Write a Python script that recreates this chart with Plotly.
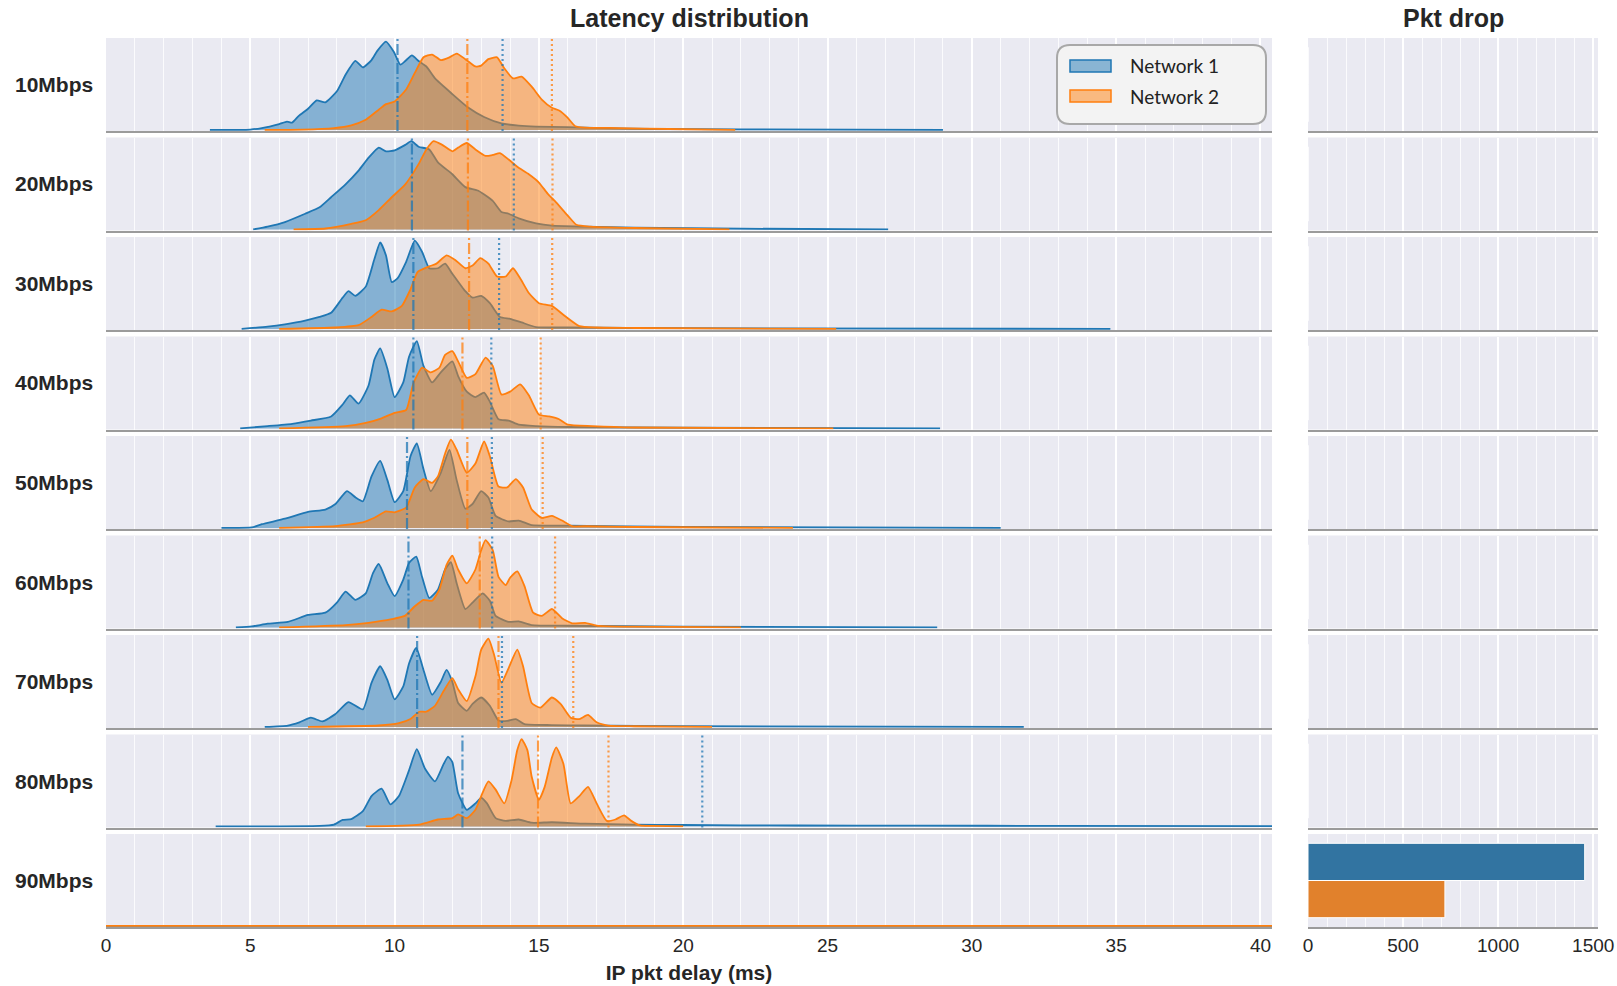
import plotly.graph_objects as go
from plotly.subplots import make_subplots

rates = ["10Mbps", "20Mbps", "30Mbps", "40Mbps", "50Mbps", "60Mbps", "70Mbps", "80Mbps", "90Mbps"]

# latency KDE per rate: delay (ms) and density (scaled to the ridge height)
n1_10_delay = [3.6, 5.0, 5.4, 6.0, 6.27, 6.45, 6.67, 7.0, 7.3, 7.6, 8.0, 8.3, 8.64, 8.9, 9.2, 9.4, 9.7, 9.97, 10.2, 10.37, 10.6, 10.83, 11.1, 11.4, 12.0, 12.56, 13.1, 13.7, 14.3, 14.9, 16.0, 17.2, 18.9, 22.0, 29.0]
n1_10_dens = [0.0, 0.004, 0.02, 0.064, 0.09, 0.08, 0.15, 0.23, 0.32, 0.30, 0.42, 0.60, 0.75, 0.68, 0.76, 0.86, 0.96, 0.85, 0.71, 0.75, 0.81, 0.75, 0.69, 0.56, 0.39, 0.24, 0.14, 0.07, 0.046, 0.035, 0.03, 0.02, 0.01, 0.006, 0.0]
n2_10_delay = [5.5, 6.8, 7.9, 8.5, 9.0, 9.45, 9.7, 10.0, 10.4, 10.7, 11.0, 11.3, 11.6, 11.9, 12.15, 12.45, 12.8, 13.0, 13.25, 13.55, 13.8, 14.1, 14.4, 14.75, 15.1, 15.45, 15.7, 16.0, 16.26, 16.6, 17.8, 19.5, 21.8]
n2_10_dens = [0.0, 0.003, 0.02, 0.05, 0.11, 0.22, 0.28, 0.31, 0.44, 0.62, 0.79, 0.82, 0.76, 0.79, 0.83, 0.77, 0.69, 0.70, 0.77, 0.79, 0.67, 0.56, 0.58, 0.47, 0.33, 0.24, 0.21, 0.13, 0.04, 0.025, 0.02, 0.01, 0.0]

n1_20_delay = [5.1, 5.6, 6.2, 6.9, 7.4, 7.8, 8.3, 8.75, 9.1, 9.45, 9.7, 10.0, 10.37, 10.58, 10.83, 11.2, 11.5, 12.0, 12.45, 12.9, 13.4, 13.7, 13.95, 14.3, 14.9, 15.45, 16.6, 18.3, 22.0, 27.1]
n1_20_dens = [0.0, 0.03, 0.08, 0.17, 0.24, 0.35, 0.49, 0.64, 0.78, 0.89, 0.85, 0.86, 0.92, 0.96, 0.90, 0.87, 0.73, 0.60, 0.46, 0.42, 0.31, 0.19, 0.17, 0.12, 0.065, 0.04, 0.03, 0.02, 0.008, 0.0]
n2_20_delay = [6.5, 7.6, 8.5, 9.0, 9.45, 9.9, 10.37, 10.83, 11.1, 11.35, 11.65, 12.0, 12.2, 12.5, 12.8, 13.15, 13.4, 13.65, 13.95, 14.3, 14.65, 15.0, 15.3, 15.55, 16.0, 16.3, 16.8, 18.3, 21.6]
n2_20_dens = [0.0, 0.01, 0.06, 0.10, 0.21, 0.35, 0.49, 0.71, 0.87, 0.96, 0.92, 0.85, 0.89, 0.94, 0.87, 0.80, 0.81, 0.83, 0.76, 0.67, 0.60, 0.51, 0.39, 0.31, 0.15, 0.05, 0.03, 0.015, 0.0]

n1_30_delay = [4.7, 5.6, 6.2, 6.9, 7.4, 7.8, 8.2, 8.4, 8.64, 9.0, 9.3, 9.5, 9.7, 9.9, 10.1, 10.4, 10.7, 10.95, 11.2, 11.5, 11.75, 12.0, 12.45, 12.7, 13.0, 13.3, 13.65, 14.0, 14.4, 14.9, 16.0, 20.0, 34.8]
n1_30_dens = [0.0, 0.025, 0.05, 0.09, 0.13, 0.175, 0.34, 0.41, 0.36, 0.46, 0.76, 0.94, 0.80, 0.51, 0.55, 0.73, 0.96, 0.84, 0.66, 0.66, 0.71, 0.60, 0.41, 0.34, 0.36, 0.28, 0.13, 0.11, 0.07, 0.02, 0.015, 0.008, 0.0]
n2_30_delay = [6.0, 7.95, 8.75, 9.2, 9.55, 9.9, 10.25, 10.55, 10.8, 11.2, 11.45, 11.8, 12.1, 12.45, 12.7, 12.97, 13.25, 13.55, 13.85, 14.1, 14.35, 14.65, 15.0, 15.45, 15.9, 16.4, 17.0, 18.3, 25.3]
n2_30_dens = [0.0, 0.015, 0.04, 0.13, 0.21, 0.19, 0.25, 0.43, 0.62, 0.68, 0.71, 0.80, 0.75, 0.66, 0.69, 0.77, 0.71, 0.57, 0.57, 0.66, 0.55, 0.39, 0.28, 0.25, 0.14, 0.03, 0.015, 0.01, 0.0]

n1_40_delay = [4.65, 5.6, 6.45, 7.1, 7.8, 8.2, 8.45, 8.75, 9.1, 9.3, 9.5, 9.75, 10.0, 10.3, 10.5, 10.77, 11.0, 11.3, 11.6, 12.0, 12.2, 12.5, 12.8, 13.1, 13.3, 13.6, 13.95, 14.3, 14.9, 16.0, 20.0, 28.9]
n1_40_dens = [0.0, 0.025, 0.05, 0.085, 0.13, 0.26, 0.36, 0.27, 0.47, 0.75, 0.87, 0.65, 0.34, 0.50, 0.78, 0.95, 0.68, 0.50, 0.61, 0.73, 0.57, 0.40, 0.34, 0.39, 0.29, 0.10, 0.085, 0.04, 0.025, 0.015, 0.008, 0.0]
n2_40_delay = [6.0, 8.3, 9.0, 9.55, 10.0, 10.4, 10.65, 10.95, 11.25, 11.55, 11.75, 12.0, 12.2, 12.5, 12.8, 13.15, 13.4, 13.7, 14.0, 14.35, 14.65, 15.0, 15.35, 15.7, 16.0, 16.85, 18.3, 25.2]
n2_40_dens = [0.0, 0.025, 0.06, 0.11, 0.17, 0.20, 0.49, 0.66, 0.61, 0.66, 0.80, 0.84, 0.73, 0.55, 0.59, 0.77, 0.68, 0.37, 0.40, 0.48, 0.36, 0.15, 0.13, 0.10, 0.04, 0.025, 0.01, 0.0]

n1_50_delay = [4.0, 5.05, 5.4, 6.2, 7.0, 7.6, 7.95, 8.35, 8.65, 8.9, 9.2, 9.5, 9.75, 10.0, 10.3, 10.55, 10.77, 11.0, 11.25, 11.6, 11.9, 12.15, 12.45, 12.7, 13.0, 13.25, 13.5, 13.95, 14.3, 14.75, 16.0, 20.0, 31.0]
n1_50_dens = [0.0, 0.005, 0.04, 0.10, 0.175, 0.20, 0.26, 0.40, 0.33, 0.29, 0.56, 0.73, 0.52, 0.28, 0.40, 0.78, 0.92, 0.64, 0.40, 0.60, 0.85, 0.52, 0.21, 0.26, 0.40, 0.33, 0.13, 0.07, 0.08, 0.03, 0.025, 0.01, 0.0]
n2_50_delay = [6.0, 7.95, 8.9, 9.3, 9.7, 10.0, 10.4, 10.7, 11.0, 11.3, 11.5, 11.75, 11.95, 12.15, 12.5, 12.8, 13.1, 13.3, 13.6, 13.9, 14.2, 14.45, 14.75, 15.1, 15.45, 15.8, 16.15, 16.7, 18.3, 23.8]
n2_50_dens = [0.0, 0.02, 0.06, 0.11, 0.18, 0.17, 0.22, 0.44, 0.53, 0.49, 0.56, 0.81, 0.96, 0.85, 0.60, 0.70, 0.94, 0.78, 0.45, 0.44, 0.53, 0.44, 0.20, 0.11, 0.13, 0.08, 0.02, 0.02, 0.01, 0.0]

n1_60_delay = [4.5, 5.05, 5.6, 6.3, 7.0, 7.6, 8.0, 8.3, 8.64, 9.0, 9.25, 9.45, 9.75, 10.0, 10.3, 10.5, 10.75, 10.95, 11.2, 11.5, 11.75, 11.95, 12.15, 12.45, 12.7, 13.05, 13.3, 13.5, 13.95, 14.3, 14.75, 16.0, 20.0, 28.8]
n1_60_dens = [0.0, 0.01, 0.04, 0.06, 0.135, 0.16, 0.27, 0.39, 0.30, 0.37, 0.59, 0.69, 0.48, 0.34, 0.52, 0.70, 0.77, 0.55, 0.32, 0.41, 0.63, 0.71, 0.48, 0.20, 0.27, 0.37, 0.29, 0.125, 0.06, 0.065, 0.025, 0.018, 0.008, 0.0]
n2_60_delay = [6.0, 8.3, 9.1, 9.9, 10.35, 10.7, 11.0, 11.3, 11.55, 11.8, 12.0, 12.2, 12.5, 12.8, 13.0, 13.15, 13.4, 13.6, 13.85, 14.0, 14.25, 14.5, 14.8, 15.1, 15.45, 15.8, 16.15, 16.6, 17.0, 18.3, 22.0]
n2_60_dens = [0.0, 0.025, 0.05, 0.09, 0.125, 0.23, 0.30, 0.29, 0.41, 0.68, 0.78, 0.63, 0.48, 0.63, 0.84, 0.95, 0.84, 0.55, 0.46, 0.54, 0.61, 0.45, 0.16, 0.125, 0.20, 0.10, 0.045, 0.05, 0.02, 0.008, 0.0]

n1_70_delay = [5.5, 6.3, 6.7, 7.1, 7.5, 7.95, 8.4, 8.9, 9.2, 9.5, 9.75, 10.0, 10.3, 10.5, 10.75, 11.0, 11.3, 11.6, 11.8, 12.0, 12.2, 12.5, 12.7, 13.0, 13.3, 13.6, 13.9, 14.2, 14.5, 15.45, 16.55, 20.0, 31.8]
n1_70_dens = [0.0, 0.015, 0.05, 0.10, 0.06, 0.14, 0.27, 0.19, 0.48, 0.66, 0.51, 0.30, 0.44, 0.69, 0.86, 0.62, 0.35, 0.49, 0.62, 0.49, 0.26, 0.175, 0.25, 0.32, 0.23, 0.07, 0.065, 0.085, 0.03, 0.02, 0.015, 0.008, 0.0]
n2_70_delay = [7.0, 9.45, 10.15, 10.55, 10.85, 11.1, 11.4, 11.7, 12.0, 12.2, 12.5, 12.8, 13.0, 13.25, 13.45, 13.7, 13.95, 14.25, 14.45, 14.75, 15.05, 15.45, 15.75, 16.1, 16.4, 16.7, 17.0, 17.4, 18.3, 21.0]
n2_70_dens = [0.0, 0.015, 0.04, 0.085, 0.165, 0.165, 0.23, 0.39, 0.53, 0.41, 0.28, 0.55, 0.84, 0.96, 0.78, 0.48, 0.64, 0.84, 0.66, 0.26, 0.21, 0.32, 0.25, 0.10, 0.085, 0.13, 0.05, 0.015, 0.007, 0.0]

n1_80_delay = [3.8, 7.4, 7.9, 8.2, 8.5, 8.9, 9.2, 9.55, 9.85, 10.15, 10.5, 10.77, 11.05, 11.4, 11.7, 11.85, 12.0, 12.2, 12.5, 12.8, 13.0, 13.2, 13.5, 13.85, 14.3, 14.75, 15.45, 16.6, 18.3, 20.0, 22.0, 24.0, 28.0, 33.0, 40.4]
n1_80_dens = [0.0, 0.005, 0.02, 0.07, 0.08, 0.165, 0.33, 0.41, 0.24, 0.33, 0.61, 0.84, 0.63, 0.49, 0.68, 0.76, 0.70, 0.36, 0.18, 0.25, 0.31, 0.25, 0.09, 0.06, 0.075, 0.04, 0.045, 0.03, 0.02, 0.015, 0.012, 0.01, 0.008, 0.006, 0.004]
n2_80_delay = [9.0, 10.85, 11.5, 12.0, 12.2, 12.5, 12.8, 13.0, 13.25, 13.5, 13.8, 14.05, 14.25, 14.4, 14.6, 14.75, 15.0, 15.2, 15.45, 15.6, 15.85, 16.1, 16.4, 16.7, 17.0, 17.35, 17.65, 17.95, 18.2, 18.5, 18.9, 20.0]
n2_80_dens = [0.0, 0.02, 0.075, 0.09, 0.13, 0.09, 0.18, 0.33, 0.49, 0.40, 0.25, 0.50, 0.83, 0.95, 0.83, 0.54, 0.29, 0.43, 0.75, 0.86, 0.68, 0.25, 0.33, 0.43, 0.25, 0.06, 0.075, 0.12, 0.06, 0.01, 0.005, 0.0]

# 90Mbps: nothing got through
n1_90_delay = [0.0, 40.4]
n1_90_dens = [0.0, 0.0]
n2_90_delay = [0.0, 40.4]
n2_90_dens = [0.0, 0.0]

# reference lines (dash-dot = median, dotted = 95th pct)
median_n1 = [10.1, 10.6, 10.65, 10.65, 10.43, 10.48, 10.78, 12.35, None]
median_n2 = [12.52, 12.54, 12.58, 12.35, 12.52, 12.95, 13.6, 14.97, None]
p95_n1 = [13.74, 14.13, 13.62, 13.35, 13.37, 13.38, 13.72, 20.66, None]
p95_n2 = [15.45, 15.47, 15.46, 15.06, 15.13, 15.56, 16.19, 17.41, None]

pkt_drop_n1 = [0, 0, 0, 0, 0, 0, 0, 0, 1455]
pkt_drop_n2 = [0, 0, 0, 0, 0, 0, 0, 0, 720]

n1_curves = [(n1_10_delay, n1_10_dens), (n1_20_delay, n1_20_dens), (n1_30_delay, n1_30_dens),
             (n1_40_delay, n1_40_dens), (n1_50_delay, n1_50_dens), (n1_60_delay, n1_60_dens),
             (n1_70_delay, n1_70_dens), (n1_80_delay, n1_80_dens), (n1_90_delay, n1_90_dens)]
n2_curves = [(n2_10_delay, n2_10_dens), (n2_20_delay, n2_20_dens), (n2_30_delay, n2_30_dens),
             (n2_40_delay, n2_40_dens), (n2_50_delay, n2_50_dens), (n2_60_delay, n2_60_dens),
             (n2_70_delay, n2_70_dens), (n2_80_delay, n2_80_dens), (n2_90_delay, n2_90_dens)]

W, H = 1617, 986
BLUE, ORANGE = "#1f77b4", "#ff7f0e"
BLUE_FILL, ORANGE_FILL = "rgba(31,119,180,0.5)", "rgba(255,127,14,0.5)"
TEXT = "#262626"
FONT = "Liberation Sans, Arial, sans-serif"


def px(x):
    return x / W


def py(y):
    return 1 - y / H


fig = make_subplots(rows=9, cols=2)

for i, rate in enumerate(rates):
    r = i + 1
    for (dx, dy), name, col, fcol in [(n1_curves[i], "Network 1", BLUE, BLUE_FILL),
                                       (n2_curves[i], "Network 2", ORANGE, ORANGE_FILL)]:
        fig.add_trace(go.Scatter(
            x=dx, y=dy, mode="lines", name=name, showlegend=False,
            line=dict(color=col, width=1.8, shape="spline", smoothing=0.5),
            fill="tozeroy", fillcolor=fcol,
        ), row=r, col=1)

    # vertical markers
    for val, col, dash in [(median_n1[i], "rgba(31,119,180,0.75)", "11px,3px,2px,3px"),
                           (median_n2[i], "rgba(255,127,14,0.75)", "11px,3px,2px,3px"),
                           (p95_n1[i], "rgba(31,119,180,0.75)", "2px,3px"),
                           (p95_n2[i], "rgba(255,127,14,0.75)", "2px,3px")]:
        if val is not None:
            fig.add_vline(x=val, row=r, col=1, line=dict(color=col, width=2.2, dash=dash))

    fig.add_trace(go.Bar(x=[pkt_drop_n1[i]], y=[rate], orientation="h", name="Network 1",
                         showlegend=False, marker=dict(color="#3274a1", line=dict(color="white", width=1))),
                  row=r, col=2)
    fig.add_trace(go.Bar(x=[pkt_drop_n2[i]], y=[rate], orientation="h", name="Network 2",
                         showlegend=False, marker=dict(color="#e1812c", line=dict(color="white", width=1))),
                  row=r, col=2)

# layout: pixel-placed panels
row_top0, row_pitch, row_h = 38, 99.5, 93
grid_minor = dict(showgrid=True, gridcolor="rgba(255,255,255,0.8)", gridwidth=0.8)
for i in range(9):
    r = i + 1
    top = row_top0 + i * row_pitch
    ydom = [py(top + row_h), py(top)]
    last = r == 9
    nl = (r - 1) * 2 + 1
    nr = nl + 1
    fig.layout[f"xaxis{'' if nl == 1 else nl}"].update(
        domain=[px(106), px(1272)], range=[0, 40.4], dtick=5, tick0=0,
        showgrid=True, gridcolor="white", gridwidth=1.6,
        minor=dict(dtick=1, **grid_minor),
        showline=True, linecolor="#9b9b9b", linewidth=2, zeroline=False,
        showticklabels=last, ticks="", tickfont=dict(size=19, color=TEXT),
        ticklabeloverflow="allow",
        layer="below traces" if last else "above traces", automargin=False,
    )
    fig.layout[f"yaxis{'' if nl == 1 else nl}"].update(
        domain=ydom, range=[-0.012, 1.0], visible=False, fixedrange=True, automargin=False)
    fig.layout[f"xaxis{nr}"].update(
        domain=[px(1308), px(1598)], range=[0, 1525], dtick=500, tick0=0,
        showgrid=True, gridcolor="white", gridwidth=1.6,
        minor=dict(dtick=100, **grid_minor),
        showline=True, linecolor="#9b9b9b", linewidth=2, zeroline=False,
        showticklabels=last, ticks="", tickfont=dict(size=19, color=TEXT),
        ticklabeloverflow="allow", automargin=False,
    )
    fig.layout[f"yaxis{nr}"].update(domain=ydom, visible=False, autorange="reversed", automargin=False)

    fig.add_annotation(x=px(13), y=py(top + row_h / 2), xref="paper", yref="paper",
                       text=rates[i], showarrow=False, xanchor="left", yanchor="middle",
                       font=dict(family=FONT, size=21, color=TEXT, weight="bold"))

fig.layout["xaxis17"].update(title=dict(text="IP pkt delay (ms)", standoff=11,
                                        font=dict(family=FONT, size=21, color=TEXT, weight="bold")))

for txt, xc in [("Latency distribution", (106 + 1272) / 2), ("Pkt drop", (1308 + 1598) / 2)]:
    fig.add_annotation(x=px(xc), y=py(18), xref="paper", yref="paper", text=txt, showarrow=False,
                       xanchor="center", yanchor="middle",
                       font=dict(family=FONT, size=25, color=TEXT, weight="bold"))


# legend box (rounded frame with patches)
def rounded_box(x0, y0, x1, y1, rad):
    pts = [
        f"M {px(x0 + rad)} {py(y0)}", f"L {px(x1 - rad)} {py(y0)}",
        f"Q {px(x1)} {py(y0)} {px(x1)} {py(y0 + rad)}", f"L {px(x1)} {py(y1 - rad)}",
        f"Q {px(x1)} {py(y1)} {px(x1 - rad)} {py(y1)}", f"L {px(x0 + rad)} {py(y1)}",
        f"Q {px(x0)} {py(y1)} {px(x0)} {py(y1 - rad)}", f"L {px(x0)} {py(y0 + rad)}",
        f"Q {px(x0)} {py(y0)} {px(x0 + rad)} {py(y0)}", "Z",
    ]
    return " ".join(pts)


fig.add_shape(type="path", path=rounded_box(1057, 45, 1266, 124, 13), xref="paper", yref="paper",
              fillcolor="rgba(242,242,242,0.96)", line=dict(color="#a8a8a8", width=2), layer="above")
for name, yc, col, fcol in [("Network 1", 66, BLUE, BLUE_FILL), ("Network 2", 96, ORANGE, ORANGE_FILL)]:
    fig.add_shape(type="rect", x0=px(1070), x1=px(1111), y0=py(yc + 6), y1=py(yc - 6),
                  xref="paper", yref="paper", fillcolor=fcol, line=dict(color=col, width=1.5), layer="above")
    fig.add_annotation(x=px(1128), y=py(yc), xref="paper", yref="paper", text=name, showarrow=False,
                       xanchor="left", yanchor="middle", font=dict(family="Lato, Open Sans, sans-serif", size=19, color="#222222"))

fig.update_layout(
    width=W, height=H, margin=dict(l=0, r=0, t=0, b=0, autoexpand=False),
    plot_bgcolor="#eaeaf2", paper_bgcolor="white",
    font=dict(family=FONT, color=TEXT),
    barmode="group", bargap=0.2, bargroupgap=0,
    showlegend=False,
)

fig.write_html("out.html", config={"displayModeBar": False},
               post_script="document.body.style.margin='0';")
